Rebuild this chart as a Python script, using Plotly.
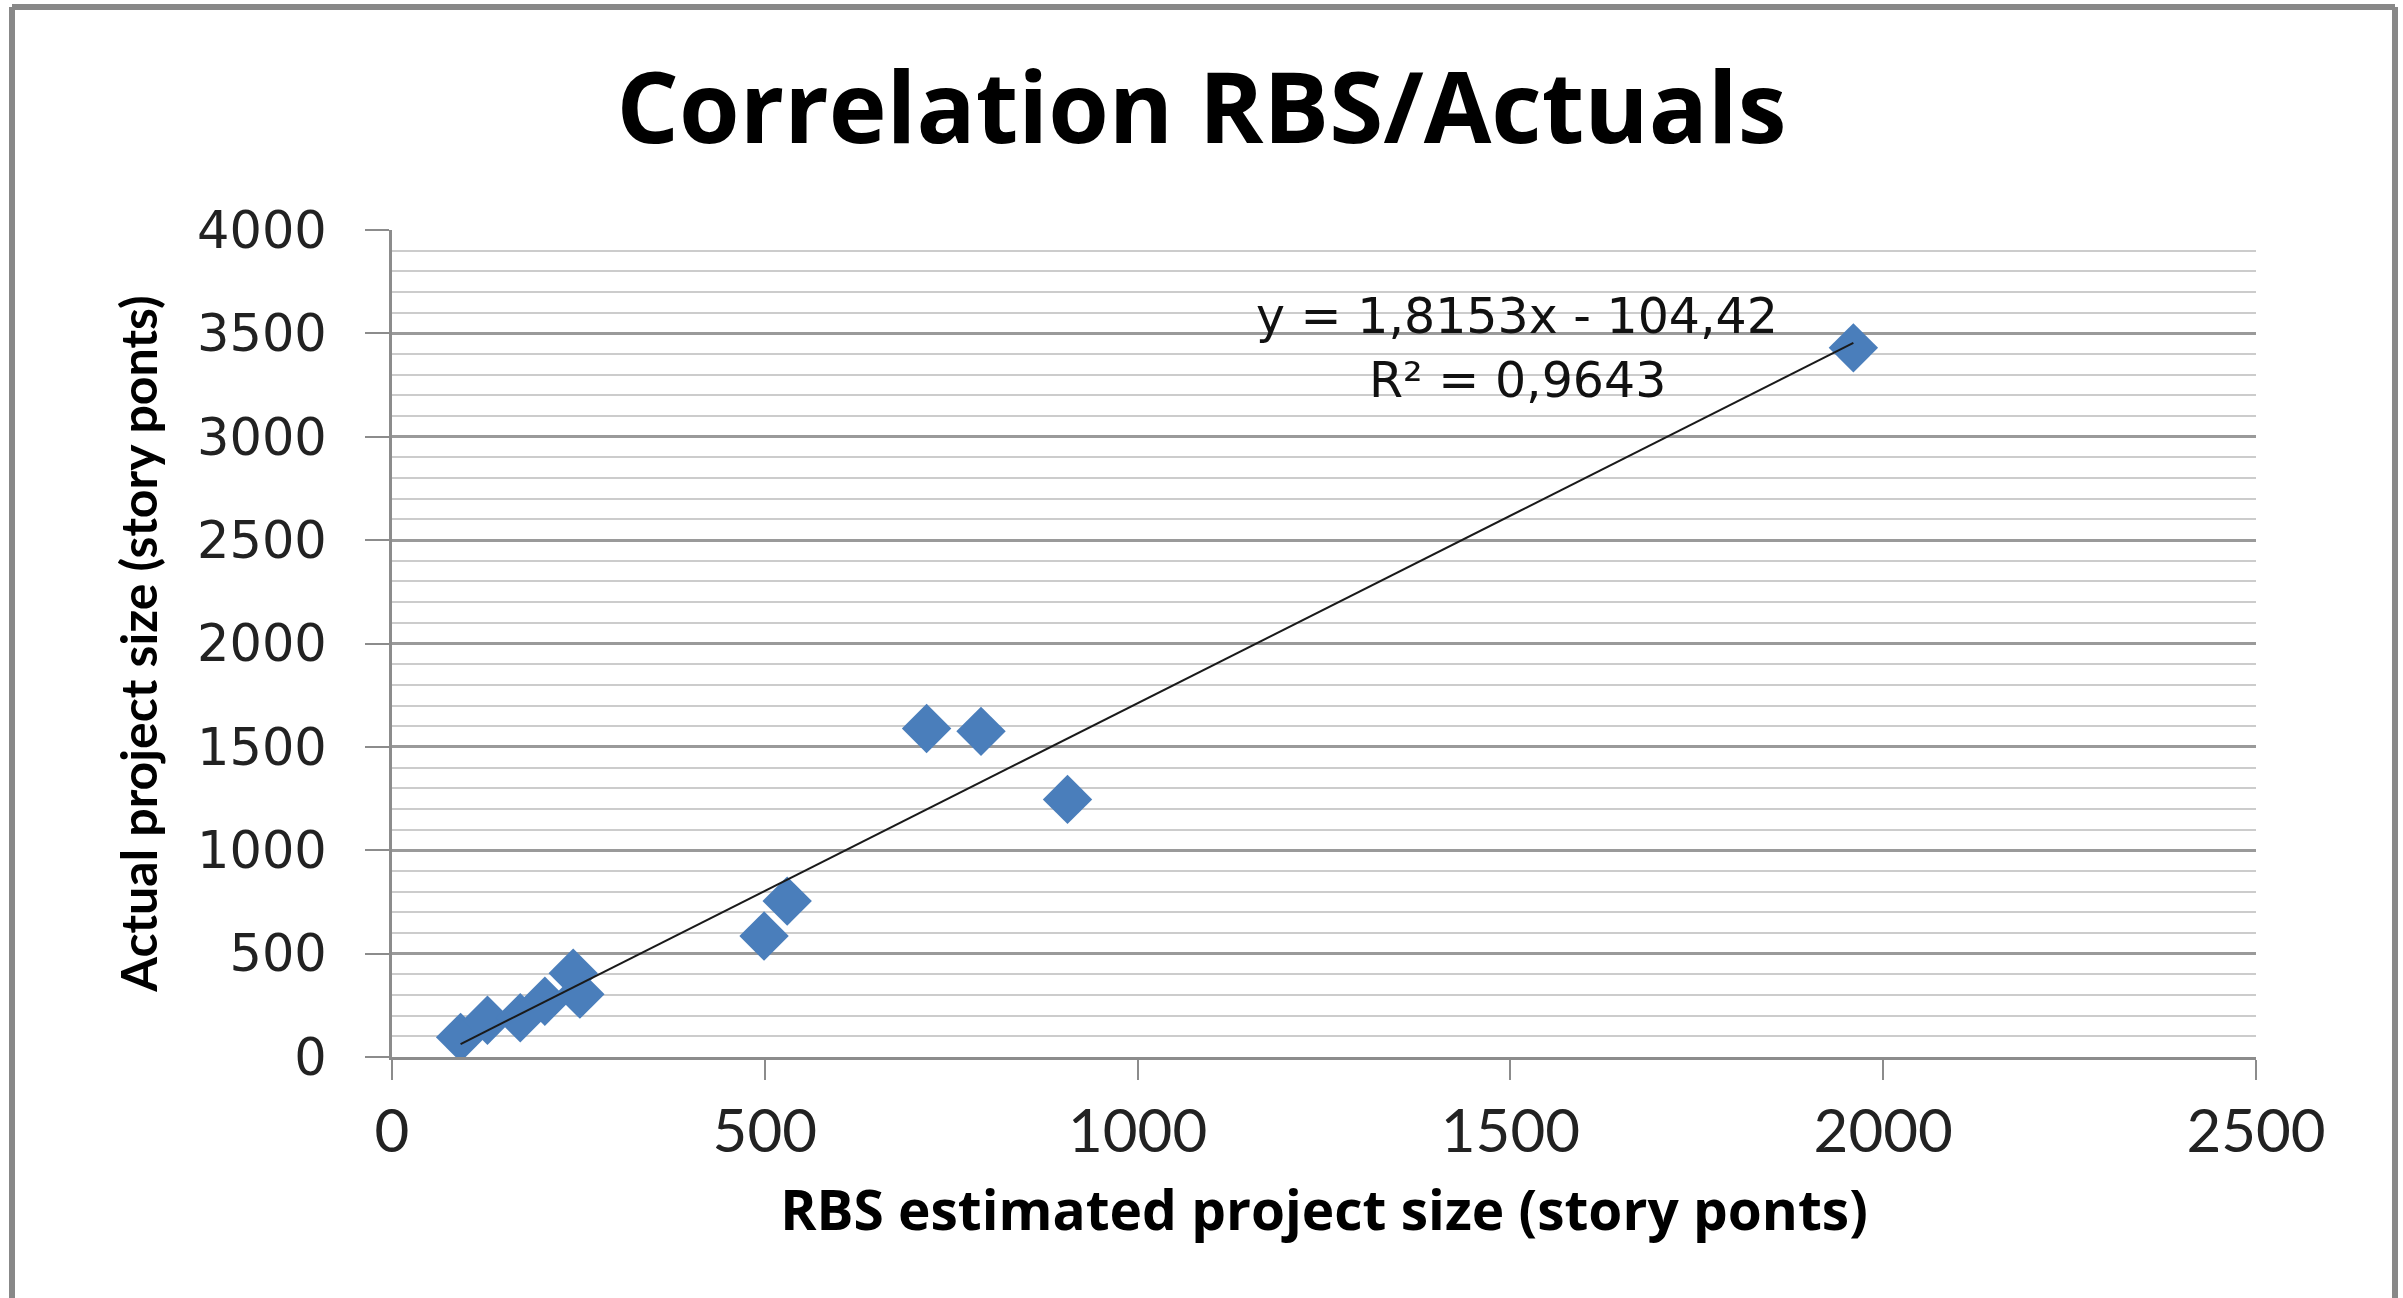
import plotly.graph_objects as go

# ---- data ----
rbs_estimate = [92, 128, 172, 205, 243, 252, 499, 530, 717, 790, 906, 1960]
actual_size = [95, 178, 190, 270, 405, 304, 585, 754, 1589, 1575, 1246, 3430]
trend_slope = 1.8153
trend_intercept = -104.42
equation_text = "y = 1,8153x - 104,42"
r2_text = "R² = 0,9643"
title_text = "Correlation RBS/Actuals"
x_title = "RBS estimated project size (story ponts)"
y_title = "Actual project size (story ponts)"
x_ticks = [0, 500, 1000, 1500, 2000, 2500]
y_ticks = [0, 500, 1000, 1500, 2000, 2500, 3000, 3500, 4000]

W, H = 2403, 1298
L, R, T, B = 392, 2256, 230, 1057  # plot area in pixels

fig = go.Figure()

# trendline from the stated coefficients over the data range
tx = [min(rbs_estimate), max(rbs_estimate)]
ty = [trend_slope * v + trend_intercept for v in tx]

fig.add_trace(go.Scatter(
    x=rbs_estimate, y=actual_size, mode="markers",
    marker=dict(symbol="diamond", size=38, color="#4A7EBB", line=dict(width=0)),
    showlegend=False, hoverinfo="x+y"))
fig.add_trace(go.Scatter(
    x=tx, y=ty, mode="lines", line=dict(color="#1a1a1a", width=2),
    showlegend=False, hoverinfo="skip"))

def px_x(p):
    return (p - L) / (R - L)

def px_y(p):
    return (B - p) / (B - T)

# outer gray frame
frame_col = "#888888"
shapes = [
    dict(type="line", xref="paper", yref="paper", x0=px_x(12), x1=px_x(12), y0=px_y(7), y1=px_y(1310),
         line=dict(color=frame_col, width=6)),
    dict(type="line", xref="paper", yref="paper", x0=px_x(12), x1=px_x(2395), y0=px_y(7), y1=px_y(7),
         line=dict(color=frame_col, width=6)),
    dict(type="line", xref="paper", yref="paper", x0=px_x(2395), x1=px_x(2395), y0=px_y(7), y1=px_y(1310),
         line=dict(color=frame_col, width=6)),
]

fig.update_layout(
    width=W, height=H,
    margin=dict(l=L, r=W - R, t=T, b=H - B, pad=0),
    paper_bgcolor="white", plot_bgcolor="white",
    title=dict(text=title_text, x=0.5, xref="container", xanchor="center",
               y=1 - 109 / H, yref="container", yanchor="middle",
               font=dict(family="Open Sans", size=98, color="#000000", weight="bold")),
    shapes=shapes,
    annotations=[
        dict(text=equation_text, xref="paper", yref="paper", x=px_x(1517), y=px_y(316),
             showarrow=False, xanchor="center", yanchor="middle",
             font=dict(family="DejaVu Sans", size=49, color="#111111")),
        dict(text=r2_text, xref="paper", yref="paper", x=px_x(1517), y=px_y(380),
             showarrow=False, xanchor="center", yanchor="middle",
             font=dict(family="DejaVu Sans", size=49, color="#111111")),
    ],
)

fig.update_xaxes(
    range=[0, 2500], tickvals=x_ticks, ticktext=[str(v) for v in x_ticks],
    showgrid=False, zeroline=False,
    showline=True, linecolor="#8c8c8c", linewidth=3,
    ticks="outside", ticklen=20, tickwidth=2, tickcolor="#8c8c8c",
    tickfont=dict(family="Lato", size=60, color="#222222"),
    title=dict(text=x_title, standoff=28,
               font=dict(family="Open Sans", size=55, color="#000000", weight="bold")),
)
fig.update_yaxes(
    range=[0, 4000], tickvals=y_ticks, ticktext=[str(v) for v in y_ticks],
    showgrid=True, gridcolor="#9a9a9a", gridwidth=3,
    minor=dict(dtick=100, showgrid=True, gridcolor="#cccccc", gridwidth=2, ticks=""),
    zeroline=False,
    showline=True, linecolor="#8c8c8c", linewidth=3,
    ticks="outside", ticklen=24, tickwidth=2, tickcolor="#8c8c8c",
    ticklabelstandoff=28,
    tickfont=dict(family="DejaVu Sans", size=51, color="#222222"),
    title=dict(text=y_title, standoff=24,
               font=dict(family="Lato", size=50, color="#000000", weight="bold")),
)

fig.write_html("out.html", config={"displayModeBar": False},
               post_script="document.body.style.margin='0';document.body.style.overflow='hidden';")
